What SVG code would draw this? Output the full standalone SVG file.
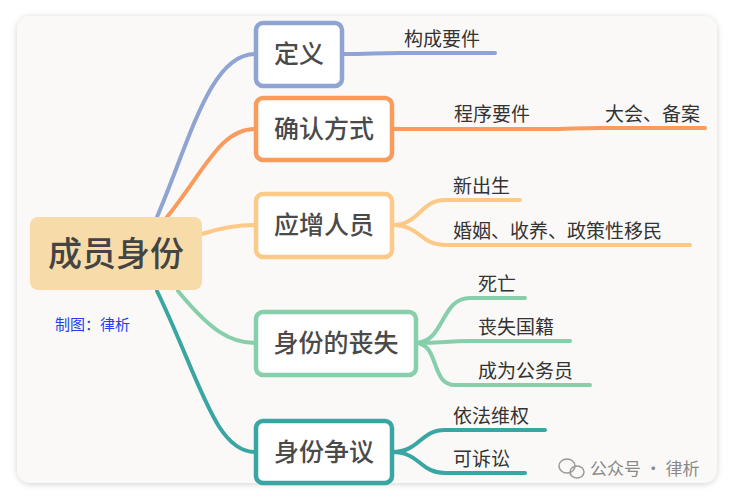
<svg xmlns="http://www.w3.org/2000/svg" width="733" height="500" viewBox="0 0 733 500">
<style>
text{font-family:"Noto Sans CJK SC","Noto Sans",sans-serif;fill:#444}
.n{fill:#fff;stroke-width:4.5}
.nt{font-size:25px;fill:#4a4a4a;font-weight:500}
.lt{font-size:19px;fill:#333}
.c{fill:none;stroke-width:4;stroke-linecap:round}
</style>
<defs><filter id="sh" x="-5%" y="-5%" width="110%" height="110%"><feDropShadow dx="0" dy="1" stdDeviation="3" flood-color="#000" flood-opacity="0.18"/></filter></defs>
<rect x="0" y="0" width="733" height="500" fill="#fff"/>
<rect x="17" y="16" width="700" height="467" rx="14" fill="#faf9f7" filter="url(#sh)"/>
<g id="connectors">
<path class="c" stroke="#8fa4d2" d="M157 217 C190 140 210 54 255 54"/>
<path class="c" stroke="#f99b5c" d="M167 217 C205 170 220 129 255 129"/>
<path class="c" stroke="#fdc987" d="M202 234 C220 228 235 225 255 225"/>
<path class="c" stroke="#86cfaa" d="M178 291 C210 330 230 343 255 343"/>
<path class="c" stroke="#3aa6a3" d="M157 291 C200 380 215 452 255 452"/>
<path class="c" stroke="#8fa4d2" d="M342 54 C370 54 375 53 400 53 L495 53"/>
<path class="c" stroke="#f99b5c" d="M392 129 L545 129 C570 129 575 128 600 128 L705 128"/>
<path class="c" stroke="#fdc987" d="M392 225 C420 225 420 200 445 200 L520 200"/>
<path class="c" stroke="#fdc987" d="M392 225 C420 225 420 245 445 245 L690 245"/>
<path class="c" stroke="#86cfaa" d="M415 343 C445 343 440 298 470 298 L525 298"/>
<path class="c" stroke="#86cfaa" d="M415 343 C445 343 445 341 470 341 L570 341"/>
<path class="c" stroke="#86cfaa" d="M415 343 C440 343 430 385 455 385 L590 385"/>
<path class="c" stroke="#3aa6a3" d="M392 452 C420 452 420 430 445 430 L545 430"/>
<path class="c" stroke="#3aa6a3" d="M392 452 C420 452 420 473 445 473 L525 473"/>
</g>
<g id="root"><rect x="30" y="217" width="172" height="73" rx="8" fill="#f7dcaa"/><text x="116" y="266" font-size="34" font-weight="500" text-anchor="middle" fill="#4a4a4a">成员身份</text></g>
<g id="n1"><rect class="n" x="256" y="23" width="86" height="63" rx="7" stroke="#8fa4d2"/><text class="nt" x="299" y="63" text-anchor="middle">定义</text></g>
<g id="n2"><rect class="n" x="256" y="98" width="136" height="62" rx="7" stroke="#f99b5c"/><text class="nt" x="324" y="138" text-anchor="middle">确认方式</text></g>
<g id="n3"><rect class="n" x="256" y="194" width="136" height="63" rx="7" stroke="#fdc987"/><text class="nt" x="324" y="234" text-anchor="middle">应增人员</text></g>
<g id="n4"><rect class="n" x="256" y="312" width="160" height="63" rx="7" stroke="#86cfaa"/><text class="nt" x="336" y="352" text-anchor="middle">身份的丧失</text></g>
<g id="n5"><rect class="n" x="256" y="421" width="136" height="62" rx="7" stroke="#3aa6a3"/><text class="nt" x="324" y="461" text-anchor="middle">身份争议</text></g>
<g id="labels">
<text class="lt" x="404" y="46">构成要件</text>
<text class="lt" x="454" y="121">程序要件</text>
<text class="lt" x="605" y="121">大会、备案</text>
<text class="lt" x="453" y="193">新出生</text>
<text class="lt" x="453" y="238">婚姻、收养、政策性移民</text>
<text class="lt" x="478" y="291">死亡</text>
<text class="lt" x="478" y="334">丧失国籍</text>
<text class="lt" x="478" y="378">成为公务员</text>
<text class="lt" x="453" y="423">依法维权</text>
<text class="lt" x="453" y="466">可诉讼</text>
</g>
<text x="55" y="330" font-size="15" style="fill:#2340f0">制图：律析</text>
<g id="watermark">
<ellipse cx="567" cy="466" rx="8" ry="7" fill="none" stroke="#999" stroke-width="1.5"/>
<ellipse cx="577" cy="472" rx="7" ry="6" fill="none" stroke="#999" stroke-width="1.5"/>
<text x="590" y="475" font-size="17" style="fill:#888">公众号 · 律析</text>
</g>
</svg>
